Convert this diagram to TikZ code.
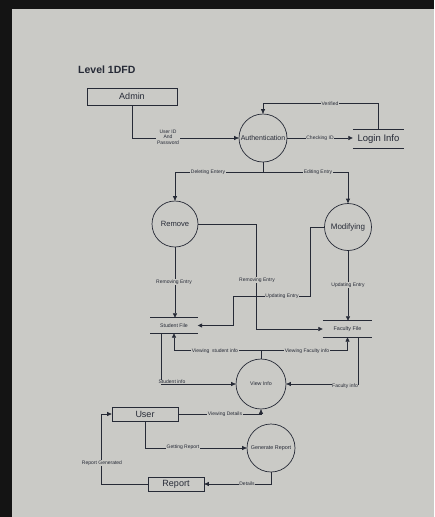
\documentclass[tikz,border=0pt]{standalone}
\usepackage{fontspec}
\setmainfont{Liberation Sans}
\usetikzlibrary{arrows.meta,calc}
\definecolor{screen}{HTML}{CACAC6}
\definecolor{ink}{HTML}{262A36}
\begin{document}
\begin{tikzpicture}[x=1pt,y=-1pt,
 flow/.style={draw=ink,line width=0.7pt,-{Triangle[length=4.5pt,width=4pt]}},
 plain/.style={draw=ink,line width=0.7pt},
 proc/.style={circle,draw=ink,line width=0.7pt,text=ink,inner sep=0pt},
 ext/.style={rectangle,draw=ink,line width=0.7pt,text=ink,inner sep=0pt},
 store/.style={rectangle,text=ink,inner sep=0pt},
 lbl/.style={fill=screen,text=ink,font=\fontsize{5}{5.4}\selectfont,inner sep=0.6pt}
]
\fill[black!92] (0,0) rectangle (434,517);
\fill[screen] (12,9) rectangle (434,517);
\useasboundingbox (0,0) rectangle (434,517);

\node[text=ink,font=\bfseries\fontsize{10.5}{12}\selectfont,anchor=west,inner sep=0pt] (title) at (78,70) {Level 1DFD};
\node[ext,minimum width=90pt,minimum height=17pt,font=\fontsize{9}{10}\selectfont] (admin) at (132,96.5) {Admin};
\node[proc,minimum size=48pt,font=\fontsize{7}{8}\selectfont] (auth) at (263,138) {Authentication};
\node[store,minimum width=51pt,minimum height=18pt,font=\fontsize{9.5}{10}\selectfont] (login) at (378.5,139) {Login Info};
\draw[plain] (login.north west) -- (login.north east) (login.south west) -- (login.south east);

\node[proc,minimum size=46pt,font=\fontsize{7.6}{8}\selectfont] (remove) at (175,224) {Remove};
\node[proc,minimum size=47pt,font=\fontsize{8}{9}\selectfont] (modify) at (348,227) {Modifying};

\node[store,minimum width=47pt,minimum height=15pt,font=\fontsize{5.2}{6}\selectfont] (student) at (174,325.5) {Student File};
\draw[plain] (student.north west) -- (student.north east) (student.south west) -- (student.south east);
\node[store,minimum width=49pt,minimum height=16pt,font=\fontsize{5.4}{6}\selectfont] (faculty) at (347.5,329) {Faculty File};
\draw[plain] (faculty.north west) -- (faculty.north east) (faculty.south west) -- (faculty.south east);

\node[proc,minimum size=50pt,font=\fontsize{5.3}{6}\selectfont] (view) at (261,384) {View Info};
\node[ext,minimum width=66pt,minimum height=14pt,font=\fontsize{9}{10}\selectfont] (user) at (145,414) {User};
\node[proc,minimum size=48pt,font=\fontsize{5.4}{6}\selectfont] (gen) at (271,448) {Generate Report};
\node[ext,minimum width=56pt,minimum height=14pt,font=\fontsize{9}{10}\selectfont] (report) at (176,484) {Report};

% connectors
\draw[flow] (admin.south) |- (auth.west);
\draw[flow] (auth.east) -- (auth.east -| login.west);
\draw[flow] (login.north) -- ++(0,-26) -| (auth.north);
\draw[plain] (auth.south) -- ++(0,10) coordinate (asplit);
\draw[flow] (asplit) -| (remove.north);
\draw[flow] (asplit) -| (modify.north);
\draw[flow] (remove.east) -| ([xshift=-66pt]faculty.west) -- (faculty.west);
\draw[flow] (remove.south) -- (remove.south |- student.north);
\draw[flow] (modify.west) -- ++(-14,0) |- (233,296) |- (student.east);
\draw[flow] (modify.south) -- (modify.south |- faculty.north);
\draw[plain] (view.north) -- ++(0,-8) coordinate (vsplit);
\draw[flow] (vsplit) -| (student.south);
\draw[flow] (vsplit) -| (faculty.south);
\draw[flow] ([xshift=11pt]student.south west) |- (view.west);
\draw[flow] ([xshift=-14pt]faculty.south east) |- (view.east);
\draw[flow] (user.east) -| (view.south);
\draw[flow] (user.south) |- (gen.west);
\draw[flow] (gen.south) |- (report.east);
\draw[flow] (report.west) -- ++(-46,0) |- (user.west);

% labels
\node[lbl,align=center] (l1) at (168,137) {User ID\\And\\Password};
\node[lbl] (l2) at (320,138) {Checking ID};
\node[lbl] (l3) at (330,104) {Verified};
\node[lbl] (l4) at (208,172) {Deleting Entery};
\node[lbl] (l5) at (318,172) {Editing Entry};
\node[lbl] (l6) at (174,282) {Removing Entry};
\node[lbl] (l7) at (257,280) {Removing Entry};
\node[lbl] (l8) at (282,296) {Updating Entry};
\node[lbl] (l9) at (348,285) {Updating Entry};
\node[lbl] (l10) at (215,351) {Viewing\ \ student info};
\node[lbl] (l11) at (307,351) {Viewing Faculty info};
\node[lbl] (l12) at (172,382) {Student info};
\node[lbl] (l13) at (345,386) {Faculty info};
\node[lbl] (l14) at (225,414) {Viewing Details};
\node[lbl] (l15) at (183,447) {Getting Report};
\node[lbl] (l16) at (247,484) {Details};
\node[lbl] (l17) at (102,463) {Report Generated};
\end{tikzpicture}
\end{document}
